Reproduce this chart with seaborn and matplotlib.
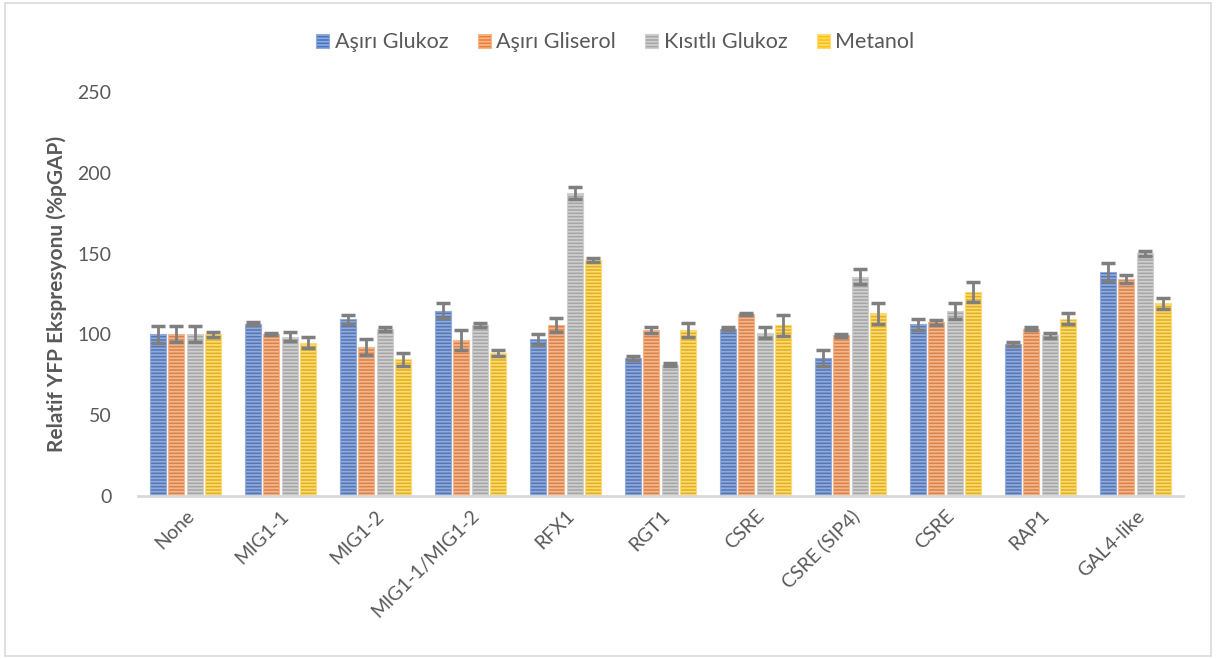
import numpy as np
import pandas as pd
import matplotlib
matplotlib.use("Agg")
import matplotlib.pyplot as plt
from matplotlib.patches import Patch, Rectangle
import seaborn as sns

# Promoter elements (x axis) and growth conditions (hue)
elements = ["None", "MIG1-1", "MIG1-2", "MIG1-1/MIG1-2", "RFX1", "RGT1",
            "CSRE", "CSRE (SIP4)", "CSRE", "RAP1", "GAL4-like"]
conditions = ["Aşırı Glukoz", "Aşırı Gliserol", "Kısıtlı Glukoz", "Metanol"]

# Relative YFP expression (% of pGAP) per condition
asiri_glukoz = [100, 106.7, 109.3, 114.7, 97.0, 85.2, 103.5, 85.4, 106.2, 93.9, 138.4]
asiri_gliserol = [100, 100.4, 92.4, 96.5, 105.8, 102.7, 112.6, 99.4, 107.5, 103.5, 134.3]
kisitli_glukoz = [100, 98.6, 103.3, 106.0, 187.7, 81.3, 101.0, 135.7, 114.5, 99.4, 150.2]
metanol = [100, 94.9, 84.6, 88.5, 146.0, 102.7, 105.6, 113.0, 126.4, 109.7, 119.2]

# Standard deviations
sd_asiri_glukoz = [5.5, 0.9, 2.8, 4.7, 3.5, 1.3, 0.8, 4.8, 3.2, 1.2, 5.6]
sd_asiri_gliserol = [5.0, 0.5, 4.9, 6.4, 4.2, 2.0, 0.8, 0.8, 1.5, 0.8, 2.6]
sd_kisitli_glukoz = [5.0, 2.8, 1.0, 1.3, 3.7, 0.8, 3.5, 4.8, 4.8, 1.6, 1.7]
sd_metanol = [1.5, 3.3, 4.2, 2.1, 1.4, 4.4, 6.7, 6.5, 6.3, 3.5, 3.5]

means = [asiri_glukoz, asiri_gliserol, kisitli_glukoz, metanol]
sds = [sd_asiri_glukoz, sd_asiri_gliserol, sd_kisitli_glukoz, sd_metanol]

rows = []
for c, vals, errs in zip(conditions, means, sds):
    for i, (v, e) in enumerate(zip(vals, errs)):
        rows.append({"idx": i, "condition": c, "value": v, "sd": e})
df = pd.DataFrame(rows)

base_colors = ["#4472C4", "#ED7D31", "#A5A5A5", "#FFC000"]
stripe_colors = ["#8FAADC", "#F6B58A", "#CFCFCF", "#FFDA70"]

sns.set_theme(style="white")
plt.rcParams["font.family"] = ["Lato", "DejaVu Sans"]
plt.rcParams["hatch.linewidth"] = 1.3

fig = plt.figure(figsize=(12.16, 6.59), dpi=100)
ax = fig.add_axes([0.1135, 0.2473, 0.8595, 0.6131])

sns.barplot(data=df, x="idx", y="value", hue="condition", hue_order=conditions,
            order=list(range(len(elements))), palette=base_colors,
            errorbar=None, width=0.78, gap=0.14, legend=False, ax=ax)

# Stripe fill and error bars on each series
bar_sets = list(ax.containers)
for k, cont in enumerate(bar_sets):
    for bar in cont:
        bar.set_hatch("-----")
        bar.set_edgecolor(stripe_colors[k])
        bar.set_linewidth(0.8)
    xs = [b.get_x() + b.get_width() / 2 for b in cont]
    ax.errorbar(xs, means[k], yerr=sds[k], fmt="none", ecolor="#7F7F7F",
                elinewidth=2, capsize=5, capthick=2.5, zorder=5)

ax.set_ylim(0, 250)
ax.set_xlim(-0.5, len(elements) - 0.5)
ax.set_yticks([0, 50, 100, 150, 200, 250])
ax.set_xticks(range(len(elements)))
ax.set_xticklabels(elements, rotation=45, ha="right", rotation_mode="anchor")
ax.tick_params(axis="both", length=0, labelsize=14, labelcolor="#595959")
ax.tick_params(axis="y", pad=19)
ax.tick_params(axis="x", pad=8)

ax.set_xlabel("")
ax.set_ylabel("Relatif YFP Ekspresyonu (%pGAP)", fontsize=15, fontweight="bold",
              color="#595959")
ax.yaxis.set_label_coords(-0.068, 0.5)

for side in ["top", "right", "left"]:
    ax.spines[side].set_visible(False)
ax.spines["bottom"].set_color("#D9D9D9")
ax.spines["bottom"].set_linewidth(2)

handles = [Patch(facecolor=bc, edgecolor=sc, hatch="-----", linewidth=0.8)
           for bc, sc in zip(base_colors, stripe_colors)]
fig.legend(handles, conditions, loc="center", bbox_to_anchor=(0.506, 0.936),
           ncol=4, frameon=False, fontsize=15.5, labelcolor="#595959",
           handlelength=0.62, handleheight=0.62, handletextpad=0.25,
           columnspacing=1.35)

# Chart area frame
fig.patches.append(Rectangle((0.004, 0.004), 0.992, 0.992, transform=fig.transFigure,
                             fill=False, edgecolor="#D9D9D9", linewidth=1.2))

fig.savefig("out.png", dpi=100)
